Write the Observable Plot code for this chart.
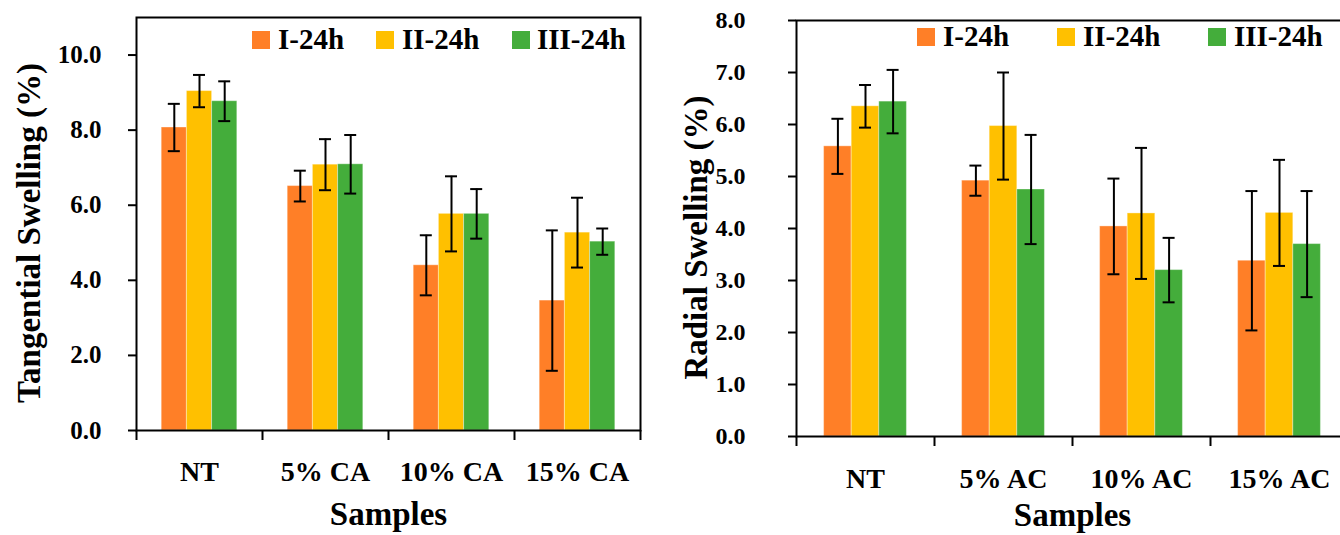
<!DOCTYPE html>
<html><head><meta charset="utf-8">
<script src="https://cdn.jsdelivr.net/npm/d3@7"></script>
<script src="https://cdn.jsdelivr.net/npm/@observablehq/plot@0.6"></script>
<style>
html,body{margin:0;padding:0;background:#fff;overflow:hidden;width:1340px;height:535px;}
#wrap{position:relative;width:1340px;height:535px;overflow:hidden;font-family:"Liberation Serif";}
.panel{position:absolute;top:0;}
#legend{position:absolute;left:0;top:0;}
</style></head><body><div id="wrap"></div>
<script>
// ---- data ----
const series = ["I-24h", "II-24h", "III-24h"];
const colors = ["#FF7F27", "#FFC000", "#44AD3B"];

const samplesT = ["NT", "5% CA", "10% CA", "15% CA"];
const tanI   = [8.07, 6.51, 4.40, 3.46];
const tanII  = [9.04, 7.08, 5.77, 5.27];
const tanIII = [8.77, 7.09, 5.77, 5.03];
const tanErrI   = [0.63, 0.41, 0.80, 1.87];
const tanErrII  = [0.43, 0.68, 1.00, 0.93];
const tanErrIII = [0.53, 0.78, 0.66, 0.35];
const yTicksT = [0, 2, 4, 6, 8, 10];

const samplesR = ["NT", "5% AC", "10% AC", "15% AC"];
const radI   = [5.58, 4.92, 4.04, 3.38];
const radII  = [6.35, 5.97, 4.29, 4.30];
const radIII = [6.44, 4.75, 3.20, 3.70];
const radErrI   = [0.53, 0.29, 0.92, 1.34];
const radErrII  = [0.41, 1.03, 1.26, 1.02];
const radErrIII = [0.61, 1.05, 0.62, 1.02];
const yTicksR = [0, 1, 2, 3, 4, 5, 6, 7, 8];

const FONT = "Liberation Serif";

function panel(cfg) {
  const {samples, vals, errs, yMax, yTicks, yLabel, width, height, ml, mr, mt, mb,
         tickPad, tickFont, catPad, ylabDx, ylabDy, xlabDy} = cfg;
  const rows = [];
  samples.forEach((c, i) => series.forEach((s, j) =>
    rows.push({sample: c, series: s, j, value: vals[j][i], err: errs[j][i]})));
  const band = (width - ml - mr) / samples.length;
  const step = band / 5;
  const cap = 12;
  const marks = [];
  series.forEach((s, j) => {
    const d = rows.filter(r => r.j === j);
    marks.push(Plot.barY(d, {x: "sample", y: "value", fill: colors[j],
      insetLeft: step * (1 + j), insetRight: step * (3 - j),
      stroke: "#fff", strokeOpacity: 0.35, strokeWidth: 1}));
  });
  series.forEach((s, j) => {
    const d = rows.filter(r => r.j === j);
    const dx = (j - 1) * step;
    marks.push(Plot.ruleX(d, {x: "sample", y1: r => r.value - r.err, y2: r => r.value + r.err,
      dx, stroke: "#000", strokeWidth: 2}));
    marks.push(Plot.tickY(d, {x: "sample", y: r => r.value + r.err, dx,
      insetLeft: (band - cap) / 2, insetRight: (band - cap) / 2, stroke: "#000", strokeWidth: 2}));
    marks.push(Plot.tickY(d, {x: "sample", y: r => r.value - r.err, dx,
      insetLeft: (band - cap) / 2, insetRight: (band - cap) / 2, stroke: "#000", strokeWidth: 2}));
  });
  marks.push(Plot.frame({stroke: "#000", strokeWidth: 2}));
  marks.push(Plot.axisY(yTicks, {tickSize: 8, tickPadding: tickPad, tickFormat: d3.format(".1f"),
    fontSize: tickFont, fontFamily: FONT, fontWeight: "bold", label: null, strokeWidth: 2}));
  marks.push(Plot.axisX({tickSize: 0, tickPadding: catPad, fontSize: 28, fontFamily: FONT, fontWeight: "bold", label: null}));
  marks.push(Plot.axisX({tickSize: 10, dx: -band / 2, tickFormat: () => "", label: null, strokeWidth: 2}));
  marks.push(Plot.axisX([samples[samples.length - 1]], {tickSize: 10, dx: band / 2, tickFormat: () => "", label: null, strokeWidth: 2}));
  marks.push(Plot.text([yLabel], {text: d => d, frameAnchor: "left", rotate: -90, dx: ylabDx, dy: ylabDy,
    fontSize: 33, fontFamily: FONT, fontWeight: "bold", textAnchor: "middle", lineAnchor: "middle"}));
  marks.push(Plot.text(["Samples"], {text: d => d, frameAnchor: "bottom", dy: xlabDy,
    fontSize: 33, fontFamily: FONT, fontWeight: "bold", textAnchor: "middle", lineAnchor: "middle"}));
  return Plot.plot({
    width, height, marginLeft: ml, marginRight: mr, marginTop: mt, marginBottom: mb,
    x: {domain: samples, padding: 0},
    y: {domain: [0, yMax]},
    style: {fontFamily: FONT, fontWeight: "bold", color: "#000", background: "transparent", overflow: "visible"},
    marks
  });
}

const wrap = document.getElementById("wrap");

const left = panel({samples: samplesT, vals: [tanI, tanII, tanIII], errs: [tanErrI, tanErrII, tanErrIII],
  yMax: 11, yTicks: yTicksT, yLabel: "Tangential Swelling (%)",
  width: 670, height: 535, ml: 136, mr: 30, mt: 17, mb: 105,
  tickPad: 27, tickFont: 25, catPad: 31, ylabDx: -107, ylabDy: 9, xlabDy: 84});
left.classList.add("panel"); left.style.left = "0px";
wrap.appendChild(left);

const right = panel({samples: samplesR, vals: [radI, radII, radIII], errs: [radErrI, radErrII, radErrIII],
  yMax: 8, yTicks: yTicksR, yLabel: "Radial Swelling (%)",
  width: 678, height: 535, ml: 126, mr: 0, mt: 20, mb: 99,
  tickPad: 43, tickFont: 24, catPad: 32, ylabDx: -100, ylabDy: 9, xlabDy: 79});
right.classList.add("panel"); right.style.left = "670px";
wrap.appendChild(right);

// ---- legends ----
const legendSpecs = [
  {markX: [252, 376, 512], textX: [278, 402, 537], markY: 31, base: 48.5},
  {markX: [917, 1057, 1208], textX: [943, 1083, 1234], markY: 28, base: 46}
];
const lg = d3.select(wrap).append("svg").attr("id", "legend").attr("width", 1340).attr("height", 535);
legendSpecs.forEach(spec => {
  series.forEach((s, j) => {
    lg.append("rect").attr("x", spec.markX[j]).attr("y", spec.markY).attr("width", 18).attr("height", 18)
      .attr("fill", colors[j]);
    lg.append("text").attr("x", spec.textX[j]).attr("y", spec.base).text(s)
      .attr("font-family", FONT).attr("font-weight", "bold").attr("font-size", 29).attr("fill", "#000");
  });
});
</script></body></html>
